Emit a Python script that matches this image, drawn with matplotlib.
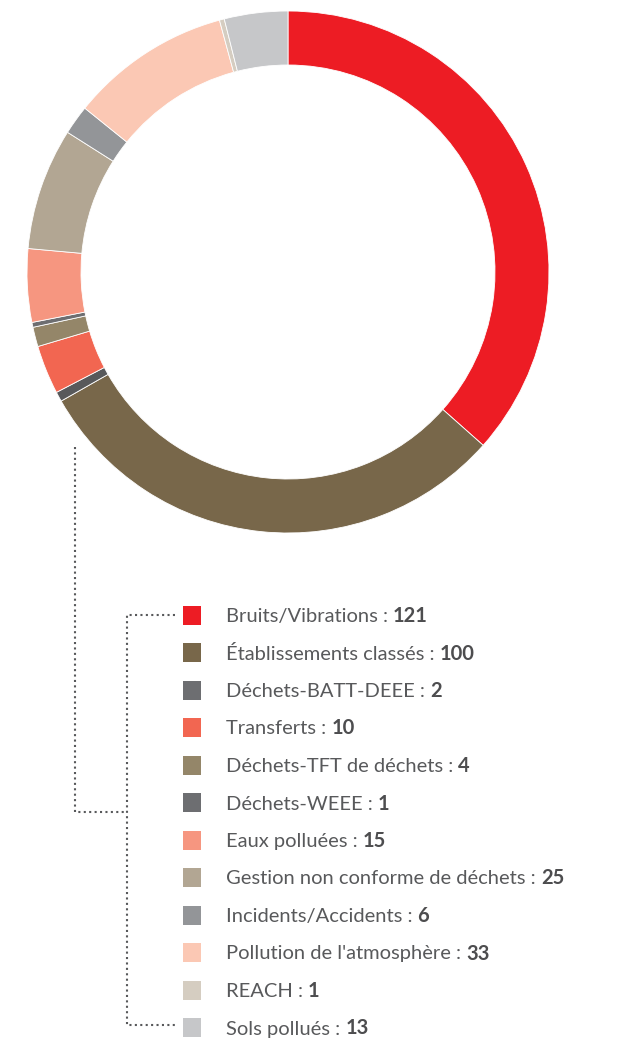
import numpy as np
import matplotlib.pyplot as plt

labels = ["Bruits/Vibrations", "Établissements classés", "Déchets-BATT-DEEE",
          "Transferts", "Déchets-TFT de déchets", "Déchets-WEEE", "Eaux polluées",
          "Gestion non conforme de déchets", "Incidents/Accidents",
          "Pollution de l'atmosphère", "REACH", "Sols pollués"]
values = [121, 100, 2, 10, 4, 1, 15, 25, 6, 33, 1, 13]
colors = ["#ED1C24", "#78674A", "#58595B", "#F26651", "#948669", "#6D6E71",
          "#F69680", "#B2A693", "#939598", "#FBC8B4", "#D5CDC1", "#C6C7C9"]
legend_colors = ["#ED1C24", "#78674A", "#6D6E71", "#F26651", "#948669", "#6D6E71",
                 "#F69680", "#B2A693", "#939598", "#FBC8B4", "#D5CDC1", "#C6C7C9"]

W, H = 626, 1038
fig = plt.figure(figsize=(W / 100, H / 100), dpi=100)
ax = fig.add_axes([0, 0, 1, 1])

cx, cy, R = 288, H - 272, 261
ax.pie(values, colors=colors, startangle=90, counterclock=False,
       center=(cx, cy), radius=R, frame=True,
       wedgeprops=dict(width=54, edgecolor="white", linewidth=0.6))

ax.set_xlim(0, W)
ax.set_ylim(0, H)
ax.set_aspect("equal")
ax.axis("off")

# dotted connector
dot = dict(color="#58595B", linestyle=(0, (1, 1.6)), linewidth=1.5)
ax.plot([75, 75, 127], [H - 447, H - 812, H - 812], **dot)
ax.plot([175, 127, 127, 175], [H - 615, H - 615, H - 1025, H - 1025], **dot)

# legend
renderer = fig.canvas.get_renderer()
inv = ax.transData.inverted()
y0, step = 615, 37.5
for i, (lab, val, col) in enumerate(zip(labels, values, legend_colors)):
    y = H - (y0 + i * step)
    ax.add_patch(plt.Rectangle((183, y - 9.5), 18, 19, color=col, lw=0))
    base = y - 7
    t = ax.text(226, base, lab + " : ", fontsize=14.5, family="Lato",
                color="#58595B", va="baseline", ha="left")
    x_end = inv.transform((t.get_window_extent(renderer).x1, 0))[0]
    ax.text(x_end, base, str(val), fontsize=14.5, family="Lato",
            fontweight="bold", color="#4D4D4F", va="baseline", ha="left")

fig.savefig("out.png", dpi=100)
